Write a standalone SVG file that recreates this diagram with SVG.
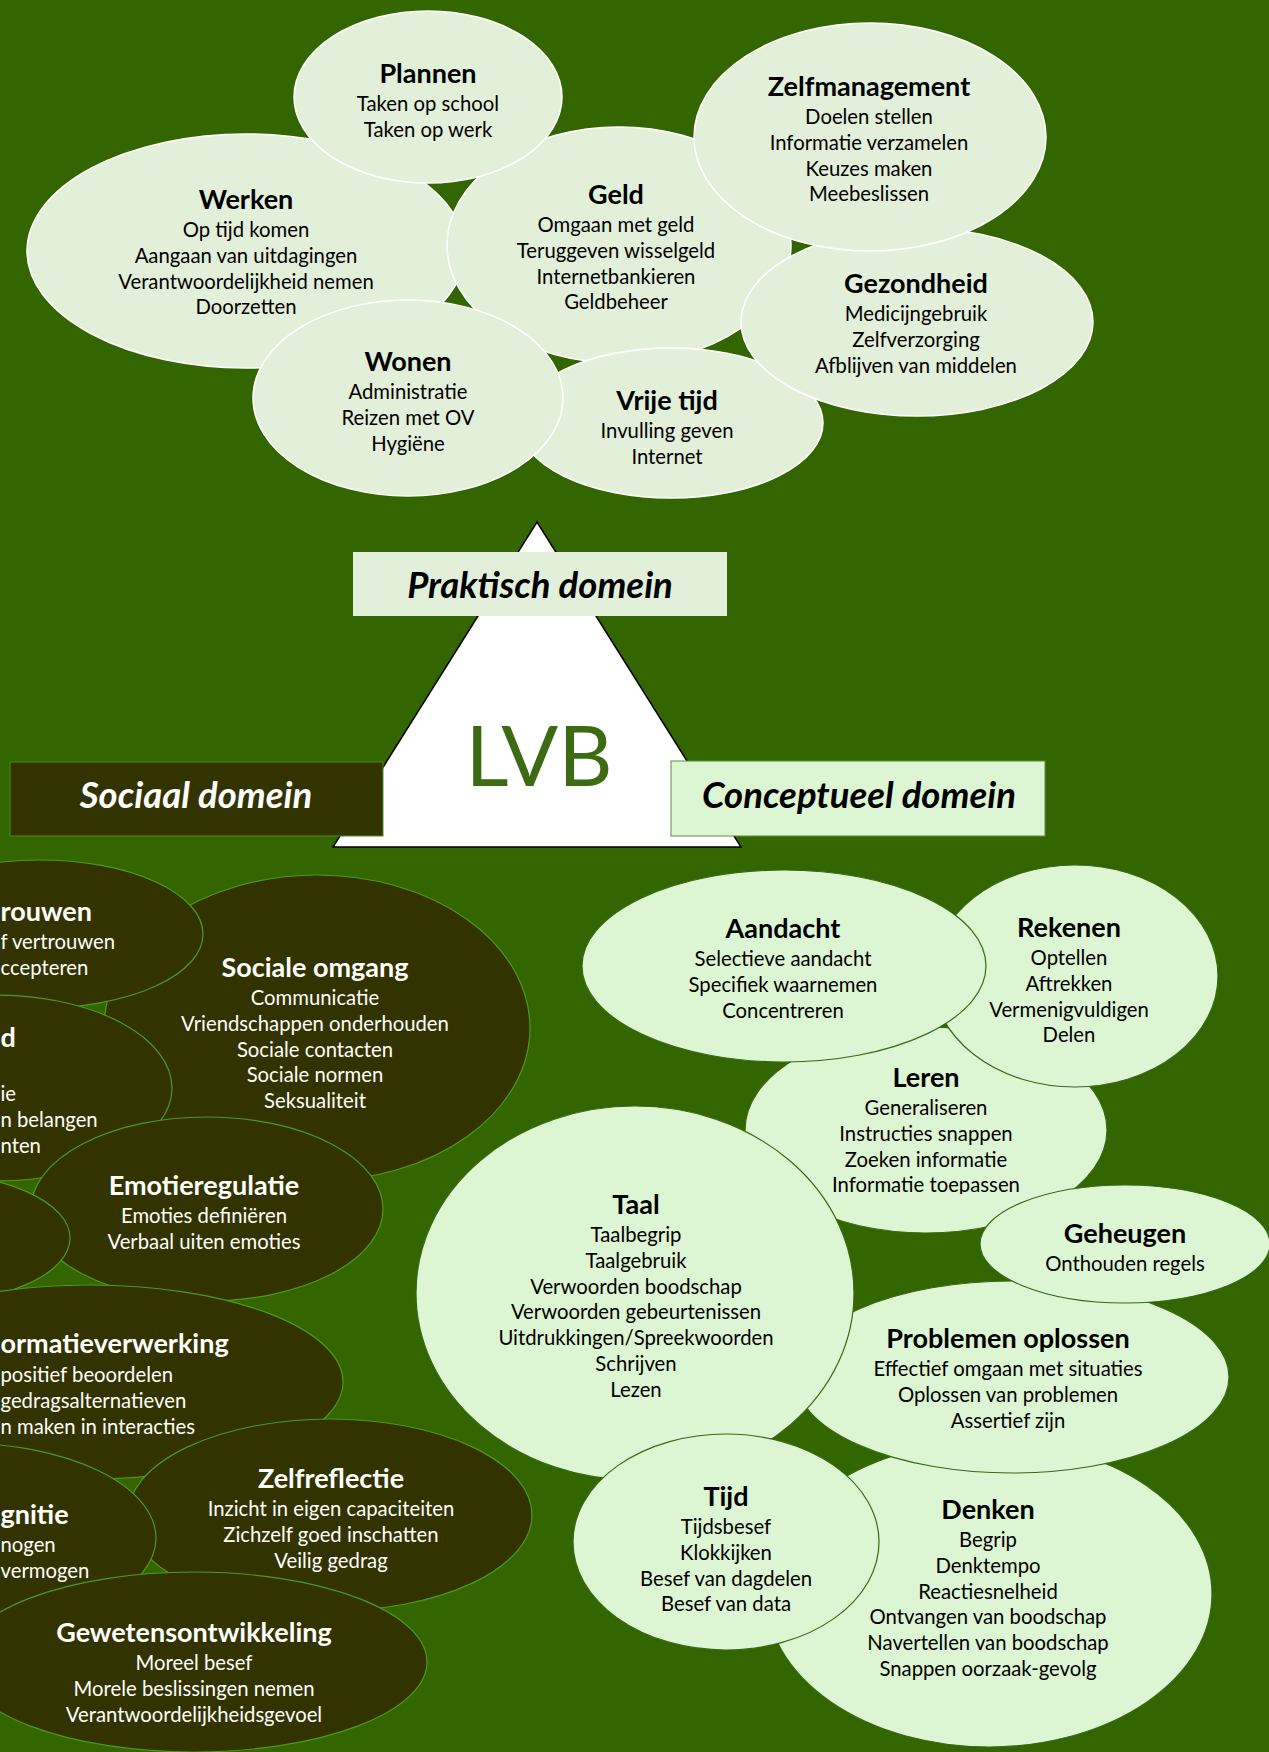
<svg xmlns="http://www.w3.org/2000/svg" width="1269" height="1752" viewBox="0 0 1269 1752">
<style>
.pe{fill:#E2EFD9;stroke:#FFFFFF;stroke-width:1.5}
.ce{fill:#DCF5D2;stroke:#386A14;stroke-width:1.2}
.se{fill:#333300;stroke:#4F9A1A;stroke-width:1.2}
text{font-family:Lato,"Liberation Sans",sans-serif}
.t{font-weight:700;font-size:27px;text-anchor:middle}
.b{font-size:20.3px;text-anchor:middle}
.ts{font-weight:700;font-size:27px;text-anchor:start}
.bs{font-size:20.3px;text-anchor:start}
.k{fill:#000}
.w{fill:#FFFFFF}
.dom{font-weight:700;font-style:italic;font-size:36.5px;text-anchor:middle}
</style>
<defs>
<clipPath id="lerenClip"><rect x="700" y="1040" width="460" height="154"/></clipPath>
</defs>
<rect x="0" y="0" width="1269" height="1752" fill="#336600"/>

<g id="werken"><ellipse class="pe" cx="246" cy="251" rx="219" ry="117"/>
<text class="t k" x="246" y="209">Werken</text>
<text class="b k" x="246" y="237">Op tijd komen</text>
<text class="b k" x="246" y="263">Aangaan van uitdagingen</text>
<text class="b k" x="246" y="289">Verantwoordelijkheid nemen</text>
<text class="b k" x="246" y="314">Doorzetten</text></g>

<g id="geld"><ellipse class="pe" cx="619" cy="245" rx="172" ry="118"/>
<text class="t k" x="616" y="204">Geld</text>
<text class="b k" x="616" y="232">Omgaan met geld</text>
<text class="b k" x="616" y="258">Teruggeven wisselgeld</text>
<text class="b k" x="616" y="284">Internetbankieren</text>
<text class="b k" x="616" y="309">Geldbeheer</text></g>

<g id="vrije-tijd"><ellipse class="pe" cx="671" cy="423" rx="152" ry="75"/>
<text class="t k" x="667" y="410">Vrije tijd</text>
<text class="b k" x="667" y="438">Invulling geven</text>
<text class="b k" x="667" y="464">Internet</text></g>

<g id="gezondheid"><ellipse class="pe" cx="917" cy="322" rx="176" ry="94"/>
<text class="t k" x="916" y="293">Gezondheid</text>
<text class="b k" x="916" y="321">Medicijngebruik</text>
<text class="b k" x="916" y="347">Zelfverzorging</text>
<text class="b k" x="916" y="373">Afblijven van middelen</text></g>

<g id="zelfmanagement"><ellipse class="pe" cx="870" cy="137" rx="176" ry="114"/>
<text class="t k" x="869" y="96">Zelfmanagement</text>
<text class="b k" x="869" y="124">Doelen stellen</text>
<text class="b k" x="869" y="150">Informatie verzamelen</text>
<text class="b k" x="869" y="176">Keuzes maken</text>
<text class="b k" x="869" y="201">Meebeslissen</text></g>

<g id="plannen"><ellipse class="pe" cx="428" cy="97" rx="134" ry="86"/>
<text class="t k" x="428" y="83">Plannen</text>
<text class="b k" x="428" y="111">Taken op school</text>
<text class="b k" x="428" y="137">Taken op werk</text></g>

<g id="wonen"><ellipse class="pe" cx="408" cy="398" rx="155" ry="98"/>
<text class="t k" x="408" y="371">Wonen</text>
<text class="b k" x="408" y="399">Administratie</text>
<text class="b k" x="408" y="425">Reizen met OV</text>
<text class="b k" x="408" y="451">Hygiëne</text></g>

<g id="lvb">
<polygon points="537,522 333,847 741,847" fill="#FFFFFF" stroke="#000000" stroke-width="1.5"/>
<text x="539" y="786" font-size="84" text-anchor="middle" fill="#3D6B14">LVB</text>
</g>

<g id="praktisch-domein"><rect x="353" y="552" width="374" height="64" fill="#E2EFD9"/>
<text class="dom k" x="540" y="598">Praktisch domein</text></g>

<g id="sociaal-domein"><rect x="10" y="762" width="373" height="74" fill="#333300" stroke="#4F8A1A" stroke-width="1"/>
<text class="dom w" x="196" y="808">Sociaal domein</text></g>

<g id="conceptueel-domein"><rect x="671" y="761" width="374" height="75" fill="#DCF5D2" stroke="#5E8C3E" stroke-width="1"/>
<text class="dom k" x="859" y="808">Conceptueel domein</text></g>

<g id="sociale-omgang"><ellipse class="se" cx="317" cy="1028" rx="213" ry="153"/>
<text class="t w" x="315" y="977">Sociale omgang</text>
<text class="b w" x="315" y="1005">Communicatie</text>
<text class="b w" x="315" y="1031">Vriendschappen onderhouden</text>
<text class="b w" x="315" y="1057">Sociale  contacten</text>
<text class="b w" x="315" y="1082">Sociale normen</text>
<text class="b w" x="315" y="1108">Seksualiteit</text></g>

<g id="vertrouwen"><ellipse class="se" cx="40" cy="934" rx="163" ry="74"/>
<text class="ts w" x="0.5" y="921">rouwen</text>
<text class="bs w" x="0.5" y="949">f vertrouwen</text>
<text class="bs w" x="0.5" y="975">ccepteren</text></g>

<g id="node-d"><ellipse class="se" cx="-5" cy="1088" rx="177" ry="93"/>
<text class="ts w" x="0.5" y="1047">d</text>
<text class="bs w" x="0.5" y="1101">ie</text>
<text class="bs w" x="0.5" y="1127">n belangen</text>
<text class="bs w" x="0.5" y="1153">nten</text></g>

<g id="emotieregulatie"><ellipse class="se" cx="207" cy="1209" rx="176" ry="92"/>
<text class="t w" x="204" y="1195">Emotieregulatie</text>
<text class="b w" x="204" y="1223">Emoties definiëren</text>
<text class="b w" x="204" y="1249">Verbaal uiten emoties</text></g>

<g id="node-left"><ellipse class="se" cx="-80" cy="1238" rx="150" ry="66"/></g>

<g id="informatieverwerking"><ellipse class="se" cx="90" cy="1382" rx="253" ry="97"/>
<text class="ts w" x="0.5" y="1353">ormatieverwerking</text>
<text class="bs w" x="0.5" y="1382">positief beoordelen</text>
<text class="bs w" x="0.5" y="1408">gedragsalternatieven</text>
<text class="bs w" x="0.5" y="1434">n maken in interacties</text></g>

<g id="zelfreflectie"><ellipse class="se" cx="330" cy="1515" rx="202" ry="96"/>
<text class="t w" x="331" y="1488">Zelfreflectie</text>
<text class="b w" x="331" y="1516">Inzicht in eigen capaciteiten</text>
<text class="b w" x="331" y="1542">Zichzelf goed inschatten</text>
<text class="b w" x="331" y="1568">Veilig gedrag</text></g>

<g id="cognitie"><ellipse class="se" cx="-40" cy="1538" rx="196" ry="95"/>
<text class="ts w" x="0.5" y="1524">gnitie</text>
<text class="bs w" x="0.5" y="1552">nogen</text>
<text class="bs w" x="0.5" y="1578">vermogen</text></g>

<g id="gewetensontwikkeling"><ellipse class="se" cx="194" cy="1662" rx="233" ry="90"/>
<text class="t w" x="194" y="1642">Gewetensontwikkeling</text>
<text class="b w" x="194" y="1670">Moreel besef</text>
<text class="b w" x="194" y="1696">Morele beslissingen nemen</text>
<text class="b w" x="194" y="1722">Verantwoordelijkheidsgevoel</text></g>

<g id="denken"><ellipse class="ce" cx="989" cy="1594" rx="223" ry="153"/>
<text class="t k" x="988" y="1519">Denken</text>
<text class="b k" x="988" y="1547">Begrip</text>
<text class="b k" x="988" y="1573">Denktempo</text>
<text class="b k" x="988" y="1599">Reactiesnelheid</text>
<text class="b k" x="988" y="1624">Ontvangen van boodschap</text>
<text class="b k" x="988" y="1650">Navertellen van boodschap</text>
<text class="b k" x="988" y="1676">Snappen oorzaak-gevolg</text></g>

<g id="problemen-oplossen"><ellipse class="ce" cx="1012" cy="1377" rx="217" ry="96"/>
<text class="t k" x="1008" y="1348">Problemen oplossen</text>
<text class="b k" x="1008" y="1376">Effectief omgaan met situaties</text>
<text class="b k" x="1008" y="1402">Oplossen van problemen</text>
<text class="b k" x="1008" y="1428">Assertief zijn</text></g>

<g id="leren"><ellipse class="ce" cx="926" cy="1130" rx="181" ry="103"/>
<g clip-path="url(#lerenClip)">
<text class="t k" x="926" y="1087">Leren</text>
<text class="b k" x="926" y="1115">Generaliseren</text>
<text class="b k" x="926" y="1141">Instructies snappen</text>
<text class="b k" x="926" y="1167">Zoeken informatie</text>
<text class="b k" x="926" y="1192">Informatie toepassen</text></g></g>

<g id="rekenen"><ellipse class="ce" cx="1075" cy="976" rx="143" ry="111"/>
<text class="t k" x="1069" y="937">Rekenen</text>
<text class="b k" x="1069" y="965">Optellen</text>
<text class="b k" x="1069" y="991">Aftrekken</text>
<text class="b k" x="1069" y="1017">Vermenigvuldigen</text>
<text class="b k" x="1069" y="1042">Delen</text></g>

<g id="aandacht"><ellipse class="ce" cx="784" cy="966" rx="202" ry="96"/>
<text class="t k" x="783" y="938">Aandacht</text>
<text class="b k" x="783" y="966">Selectieve aandacht</text>
<text class="b k" x="783" y="992">Specifiek waarnemen</text>
<text class="b k" x="783" y="1018">Concentreren</text></g>

<g id="geheugen"><ellipse class="ce" cx="1125" cy="1244" rx="145" ry="59"/>
<text class="t k" x="1125" y="1243">Geheugen</text>
<text class="b k" x="1125" y="1271">Onthouden regels</text></g>

<g id="taal"><ellipse class="ce" cx="635" cy="1293" rx="219" ry="187"/>
<text class="t k" x="636" y="1214">Taal</text>
<text class="b k" x="636" y="1242">Taalbegrip</text>
<text class="b k" x="636" y="1268">Taalgebruik</text>
<text class="b k" x="636" y="1294">Verwoorden boodschap</text>
<text class="b k" x="636" y="1319">Verwoorden gebeurtenissen</text>
<text class="b k" x="636" y="1345">Uitdrukkingen/Spreekwoorden</text>
<text class="b k" x="636" y="1371">Schrijven</text>
<text class="b k" x="636" y="1397">Lezen</text></g>

<g id="tijd"><ellipse class="ce" cx="726" cy="1542" rx="153" ry="108"/>
<text class="t k" x="726" y="1506">Tijd</text>
<text class="b k" x="726" y="1534">Tijdsbesef</text>
<text class="b k" x="726" y="1560">Klokkijken</text>
<text class="b k" x="726" y="1586">Besef van dagdelen</text>
<text class="b k" x="726" y="1611">Besef van data</text></g>

<g id="connectors"></g>
</svg>
